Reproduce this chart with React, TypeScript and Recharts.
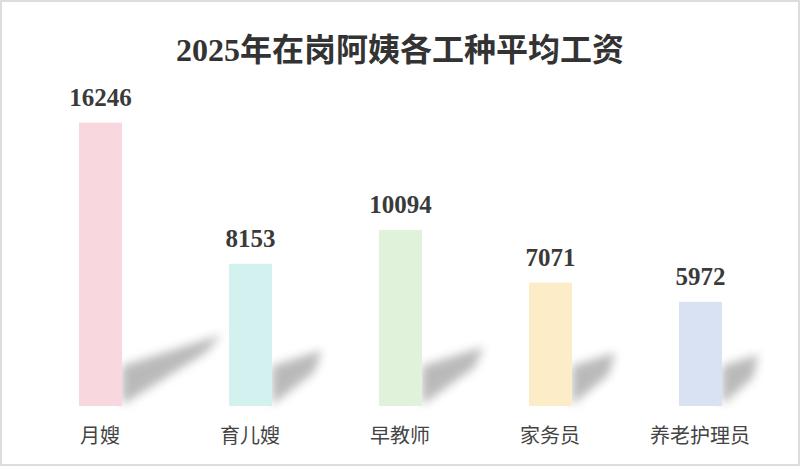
import React from 'react';
import { BarChart, Bar, XAxis, YAxis, LabelList, Cell } from 'recharts';

const categories = ['月嫂', '育儿嫂', '早教师', '家务员', '养老护理员'];
const salaries = [16246, 8153, 10094, 7071, 5972];
const barColors = ['#f8d8de', '#d3f1ef', '#e0f2da', '#fdecc8', '#d9e2f2'];

const data = categories.map((name, i) => ({ name, value: salaries[i] }));

const serif = '"Liberation Serif", "DejaVu Serif", "Noto Sans CJK SC", serif';

// bar with a soft diagonal shadow cast to the lower right
const ShadowBar = (props: any) => {
    const { x, y, width, height, fill, index } = props;
    if (!height || height <= 0) return null;
    const xr = x + width;
    const base = y + height;
    const L = height * 0.35;
    const pts = [
        [xr, base - 1],
        [xr, base - 40],
        [xr + L, base - 40 - height * 0.11],
        [xr + L * 0.85, base - 14 - height * 0.14],
    ].map(p => p.join(',')).join(' ');
    const fid = `shadow-blur-${index}`;
    return (
        <g>
            <defs>
                <filter id={fid} x="-50%" y="-50%" width="200%" height="200%">
                    <feGaussianBlur stdDeviation="5" />
                </filter>
            </defs>
            <polygon points={pts} fill="#8c8c8c" opacity={0.6} filter={`url(#${fid})`} />
            <rect x={x} y={y} width={width} height={height} fill={fill} />
        </g>
    );
};

export default function App() {
    return (
        <div style={{ position: 'absolute', left: 0, top: 0, width: 800, height: 466, background: '#fff', border: '2px solid #dddddd', boxSizing: 'border-box', overflow: 'hidden' }}>
            <div style={{ position: 'absolute', left: 0, right: 0, top: 22, textAlign: 'center', fontFamily: serif, fontWeight: 600, fontSize: 32, color: '#333' }}>
                2025年在岗阿姨各工种平均工资
            </div>
            <div style={{ position: 'absolute', left: -2, top: -2 }}>
                <BarChart width={800} height={466} data={data} margin={{ top: 92, right: 25, left: 25, bottom: 0 }}>
                    <XAxis dataKey="name" axisLine={false} tickLine={false} height={60} tickMargin={17}
                        tick={{ fill: '#444', fontSize: 20, fontFamily: serif }} interval={0} />
                    <YAxis hide domain={[0, 18000]} />
                    <Bar dataKey="value" barSize={43} isAnimationActive={false} shape={<ShadowBar />}>
                        {data.map((d, i) => (
                            <Cell key={d.name} fill={barColors[i]} />
                        ))}
                        <LabelList dataKey="value" position="top" offset={17}
                            style={{ fill: '#3a3a3a', fontSize: 25, fontFamily: serif, fontWeight: 'bold' }} />
                    </Bar>
                </BarChart>
            </div>
        </div>
    );
}
